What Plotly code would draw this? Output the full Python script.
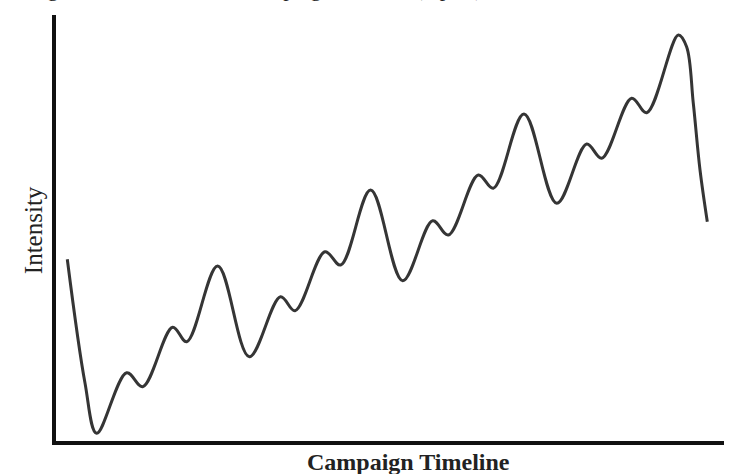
import plotly.graph_objects as go

# Campaign timeline (0-100) and intensity (0-100)
timeline = [1.69, 4.34, 6.09, 10.58, 12.98, 17.47, 19.57, 24.21, 28.94,
            33.61, 35.78, 40.27, 42.62, 47.11, 51.90, 56.39, 58.73, 63.22, 65.46,
            70.06, 74.96, 79.45, 81.69, 86.18, 88.43, 93.16, 94.40, 95.40, 96.41, 97.50]
intensity = [42.65, 13.62, 1.81, 16.03, 12.75, 26.69, 23.31, 41.08, 19.79,
             33.87, 30.59, 44.44, 41.31, 58.92, 37.63, 51.71, 48.36, 62.44, 59.32,
             76.76, 55.80, 69.72, 66.36, 80.45, 77.07, 95.31, 92.56, 79.34, 63.62, 51.48]

x_title = "Campaign Timeline"
y_title = "Intensity"
caption = "Figure 1. The emotional campaign timeline (topics)"

fig = go.Figure()
fig.add_trace(go.Scatter(
    x=timeline, y=intensity, mode="lines",
    line=dict(color="#353535", width=3, shape="spline", smoothing=1.0),
    hoverinfo="skip", showlegend=False,
))

fig.update_layout(
    width=738, height=474,
    margin=dict(l=56, r=14, t=15, b=33),
    paper_bgcolor="white", plot_bgcolor="white",
    font=dict(family="Liberation Serif", color="#222222"),
    xaxis=dict(range=[0, 100], showgrid=False, zeroline=False, showticklabels=False,
               ticks="", showline=True, linecolor="#111111", linewidth=4, fixedrange=True),
    yaxis=dict(range=[0, 100], showgrid=False, zeroline=False, showticklabels=False,
               ticks="", showline=True, linecolor="#111111", linewidth=4, fixedrange=True),
    annotations=[
        dict(text=y_title, xref="paper", yref="paper", x=-0.0344, y=0.495,
             textangle=-90, showarrow=False, xanchor="center", yanchor="middle",
             font=dict(family="Liberation Serif", size=25, color="#222222")),
        dict(text="<b>" + x_title + "</b>", xref="paper", yref="paper", x=0.527, y=-0.049,
             showarrow=False, xanchor="center", yanchor="middle",
             font=dict(family="Liberation Serif", size=24, color="#222222")),
        dict(text=caption, xref="paper", yref="paper", x=(27 - 56) / 668, y=1 + (15 - 3) / 426,
             showarrow=False, xanchor="left", yanchor="bottom",
             font=dict(family="Liberation Serif", size=22, color="#222222")),
    ],
)

fig.write_html("out.html", config={"displayModeBar": False},
               post_script="document.body.style.margin='0';document.body.style.overflow='hidden';")
